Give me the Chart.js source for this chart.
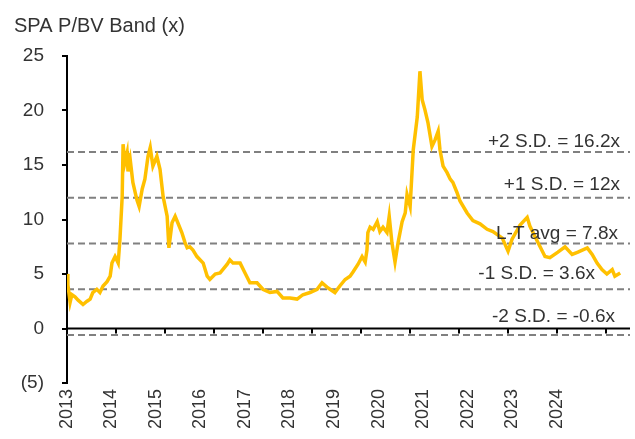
<!DOCTYPE html>
<html>
<head>
<meta charset="utf-8">
<script src="https://cdn.jsdelivr.net/npm/chart.js@4.4.1/dist/chart.umd.min.js"></script>
<style>
  html, body { margin: 0; padding: 0; background: #fff; }
  #wrap { position: relative; width: 635px; height: 439px; }
</style>
</head>
<body>
<div id="wrap"><canvas id="c"></canvas></div>
<script>
// ---- Data ----
const chartTitle = "SPA P/BV Band (x)";
const yearTicks = [2013, 2014, 2015, 2016, 2017, 2018, 2019, 2020, 2021, 2022, 2023, 2024];
const dates = [
  2013.00, 2013.02, 2013.07, 2013.11, 2013.18, 2013.25, 2013.36, 2013.45, 2013.52, 2013.58,
  2013.67, 2013.74, 2013.81, 2013.90, 2013.97, 2014.01, 2014.08, 2014.15, 2014.19, 2014.24,
  2014.26, 2014.30, 2014.35, 2014.37, 2014.42, 2014.48, 2014.57, 2014.62, 2014.69, 2014.75,
  2014.82, 2014.87, 2014.93, 2015.02, 2015.09, 2015.16, 2015.25, 2015.29, 2015.36, 2015.43,
  2015.49, 2015.58, 2015.65, 2015.70, 2015.76, 2015.83, 2015.92, 2016.06, 2016.15, 2016.21,
  2016.33, 2016.44, 2016.60, 2016.66, 2016.73, 2016.89, 2017.00, 2017.11, 2017.27, 2017.40,
  2017.56, 2017.72, 2017.85, 2018.01, 2018.17, 2018.30, 2018.46, 2018.62, 2018.73, 2018.84,
  2018.91, 2019.02, 2019.13, 2019.25, 2019.36, 2019.43, 2019.54, 2019.63, 2019.70, 2019.74,
  2019.76, 2019.81, 2019.88, 2019.97, 2020.03, 2020.10, 2020.19, 2020.24, 2020.30, 2020.37,
  2020.44, 2020.53, 2020.60, 2020.64, 2020.71, 2020.78, 2020.87, 2020.93, 2020.98, 2021.04,
  2021.11, 2021.20, 2021.27, 2021.34, 2021.38, 2021.45, 2021.54, 2021.61, 2021.67, 2021.76,
  2021.83, 2021.99, 2022.12, 2022.28, 2022.44, 2022.57, 2022.78, 2022.91, 2023.00, 2023.18,
  2023.34, 2023.40, 2023.52, 2023.63, 2023.74, 2023.85, 2024.03, 2024.19, 2024.35, 2024.48,
  2024.69, 2024.80, 2024.91, 2025.02, 2025.13, 2025.25, 2025.31, 2025.43
];
const pbv = [
  5.0, 4.0, 2.4, 3.1, 2.9, 2.6, 2.2, 2.5, 2.7, 3.3,
  3.6, 3.3, 3.9, 4.3, 4.8, 6.0, 6.6, 6.0, 8.2, 12.1,
  16.9, 15.2, 16.1, 14.4, 15.5, 13.4, 11.8, 11.2, 12.8, 13.7,
  15.8, 16.6, 14.9, 15.8, 14.6, 12.1, 10.3, 7.4, 9.7, 10.3,
  9.7, 8.8, 7.9, 7.4, 7.5, 7.2, 6.6, 6.0, 4.8, 4.5,
  5.0, 5.1, 5.9, 6.3, 6.0, 6.0, 5.1, 4.2, 4.2, 3.6,
  3.3, 3.4, 2.8, 2.8, 2.7, 3.1, 3.3, 3.6, 4.2, 3.8,
  3.6, 3.3, 3.9, 4.5, 4.8, 5.2, 5.9, 6.6, 6.1, 7.2,
  8.8, 9.3, 9.1, 9.8, 8.9, 9.3, 8.8, 10.3, 7.9, 6.1,
  7.9, 9.8, 10.6, 12.3, 11.2, 16.4, 19.4, 23.6, 21.0, 20.1,
  18.9, 16.7, 17.3, 18.1, 16.4, 14.9, 14.3, 13.7, 13.4, 12.5,
  11.7, 10.6, 9.9, 9.6, 9.1, 8.9, 8.3, 7.1, 8.2, 9.5,
  10.2, 9.4, 8.4, 7.5, 6.6, 6.5, 7.0, 7.5, 6.8, 7.0,
  7.4, 6.8, 6.0, 5.4, 5.0, 5.4, 4.8, 5.1
];
const bandValues = [16.2, 12, 7.8, 3.6, -0.6];
const bandLabels = ["+2 S.D. = 16.2x", "+1 S.D. = 12x", "L-T avg = 7.8x", "-1 S.D. = 3.6x", "-2 S.D. = -0.6x"];

// ---- Axis ranges / styling ----
const X_MIN = 2013, X_MAX = 2025.65;
const Y_MIN = -5, Y_MAX = 25;
const FONT = '"Liberation Sans", Arial, sans-serif';
const TEXT = '#333333';
const labelDx = [-10, -10, -12, -35, -15];
const labelRise = [5, 8, 4, 10, 13];

const seriesData = dates.map((d, i) => ({ x: d, y: pbv[i] }));
const bandSets = bandValues.map(v => ({
  data: [{ x: X_MIN, y: v }, { x: X_MAX, y: v }],
  borderColor: '#808080', borderWidth: 2, borderDash: [7, 4],
  pointRadius: 0, fill: false, order: 2
}));

const overlay = {
  id: 'overlay',
  beforeDatasetsDraw(chart) {
    const { ctx, chartArea: a, scales: { x, y } } = chart;
    const y0 = y.getPixelForValue(0);
    ctx.save();
    ctx.strokeStyle = '#000'; ctx.lineWidth = 2;
    ctx.beginPath(); ctx.moveTo(a.left, y0); ctx.lineTo(a.right, y0); ctx.stroke();
    for (let t = X_MIN + 1.1; t < X_MAX; t += 1.1) {
      const px = Math.round(x.getPixelForValue(t));
      ctx.beginPath(); ctx.moveTo(px, y0); ctx.lineTo(px, y0 + 5); ctx.stroke();
    }
    ctx.restore();
  },
  afterDraw(chart) {
    const { ctx, chartArea: a, scales: { y } } = chart;
    ctx.save();
    ctx.fillStyle = TEXT;
    ctx.font = '20px ' + FONT;
    ctx.textAlign = 'left'; ctx.textBaseline = 'alphabetic';
    ctx.fillText(chartTitle, 14, 32);
    ctx.font = '19px ' + FONT;
    ctx.textAlign = 'right';
    bandValues.forEach((v, i) => {
      ctx.fillText(bandLabels[i], a.right + labelDx[i], y.getPixelForValue(v) - labelRise[i]);
    });
    ctx.restore();
  }
};

new Chart(document.getElementById('c'), {
  type: 'line',
  data: {
    datasets: [
      { data: seriesData, borderColor: '#FFC000', borderWidth: 3.5, pointRadius: 0,
        tension: 0, fill: false, order: 1 },
      ...bandSets
    ]
  },
  options: {
    responsive: true, maintainAspectRatio: false, animation: false,
    layout: { padding: { left: 0, right: 5, top: 56, bottom: 8 } },
    plugins: { legend: { display: false }, tooltip: { enabled: false }, title: { display: false } },
    scales: {
      x: {
        type: 'linear', min: X_MIN, max: X_MAX,
        afterBuildTicks: s => { s.ticks = yearTicks.map(v => ({ value: v })); },
        afterFit: s => { s.height = 48; },
        grid: { display: false }, border: { display: false },
        ticks: { autoSkip: false, maxRotation: 90, minRotation: 90, padding: -2,
          color: TEXT, font: { family: FONT, size: 18 }, callback: v => String(v) }
      },
      y: {
        min: Y_MIN, max: Y_MAX,
        afterFit: s => { s.width = 67; },
        grid: { drawOnChartArea: false, drawTicks: true, tickLength: 5, color: '#000', lineWidth: 2 },
        border: { display: true, color: '#000', width: 2 },
        ticks: { stepSize: 5, padding: 18, color: TEXT, font: { family: FONT, size: 19 },
          callback: v => v < 0 ? '(' + Math.abs(v) + ')' : String(v) }
      }
    }
  },
  plugins: [overlay]
});
</script>
</body>
</html>
